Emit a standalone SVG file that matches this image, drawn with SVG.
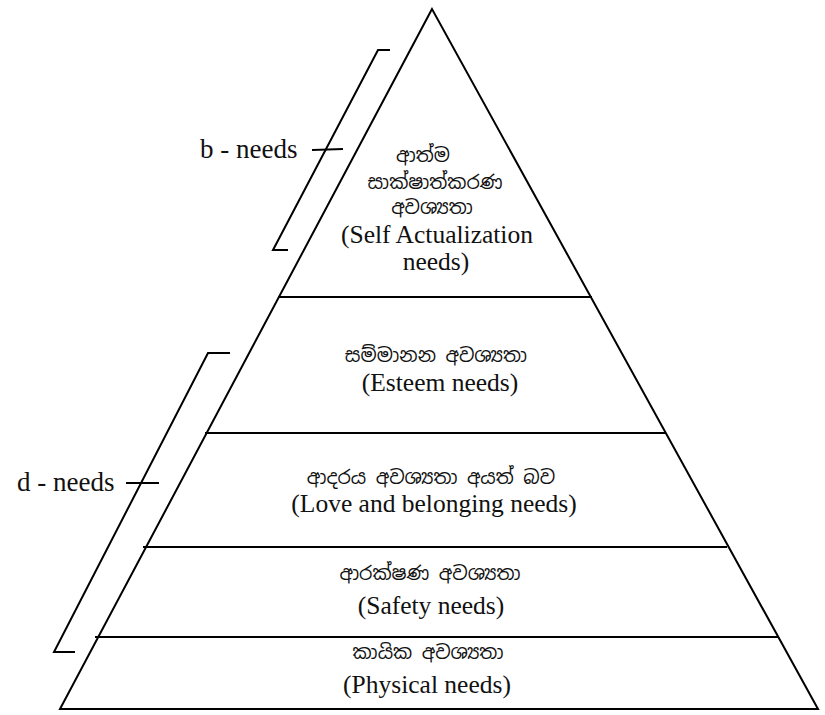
<svg xmlns="http://www.w3.org/2000/svg" width="825" height="715" viewBox="0 0 825 715">
<style>
.ln{stroke:#000;stroke-width:2;fill:none;stroke-linecap:square}
.en{font-family:"Liberation Serif","Noto Serif","DejaVu Serif","Times New Roman",serif;font-size:25.5px;fill:#111;text-anchor:middle}
.si{font-family:"Noto Sans Sinhala","Noto Serif Sinhala","Iskoola Pota","Noto Sans","DejaVu Sans",sans-serif;font-size:19px;fill:#111;text-anchor:middle}
.lb{font-family:"Liberation Serif","Noto Serif","DejaVu Serif","Times New Roman",serif;font-size:27px;fill:#111}
</style>
<rect width="825" height="715" fill="#fff"/>
<g id="pyramid">
<polygon class="ln" points="432,9 60,709 818,709"/>
</g>
<g id="connectors">
<line class="ln" x1="279" y1="297" x2="591" y2="297"/>
<line class="ln" x1="206" y1="433" x2="665" y2="433"/>
<line class="ln" x1="144" y1="547" x2="726" y2="547"/>
<line class="ln" x1="96" y1="637" x2="777" y2="637"/>
<polyline class="ln" points="389,50 378,50 273,250 287,250"/>
<line class="ln" x1="313" y1="150" x2="342" y2="149"/>
<polyline class="ln" points="229,353 208,353 54,652 74,652"/>
<line class="ln" x1="127" y1="483" x2="158" y2="483"/>
</g>
<g id="b-needs"><text class="lb" x="200" y="158">b - needs</text></g>
<g id="d-needs"><text class="lb" x="17" y="491">d - needs</text></g>
<g id="self-actualization">
<text class="si" x="423" y="162">ආත්ම</text>
<text class="si" x="435" y="189">සාක්ෂාත්කරණ</text>
<text class="si" x="432" y="214">අවශ්‍යතා</text>
<text class="en" x="437" y="243">(Self Actualization</text>
<text class="en" x="436" y="270">needs)</text>
</g>
<g id="esteem">
<text class="si" x="436" y="362">සම්මානන අවශ්‍යතා</text>
<text class="en" x="440" y="391">(Esteem needs)</text>
</g>
<g id="love">
<text class="si" x="431" y="484">ආදරය අවශ්‍යතා අයත් බව</text>
<text class="en" x="434" y="512">(Love and belonging needs)</text>
</g>
<g id="safety">
<text class="si" x="430" y="580">ආරක්ෂණ අවශ්‍යතා</text>
<text class="en" x="431" y="614">(Safety needs)</text>
</g>
<g id="physical">
<text class="si" x="428" y="659">කායික අවශ්‍යතා</text>
<text class="en" x="427" y="693">(Physical needs)</text>
</g>
</svg>
